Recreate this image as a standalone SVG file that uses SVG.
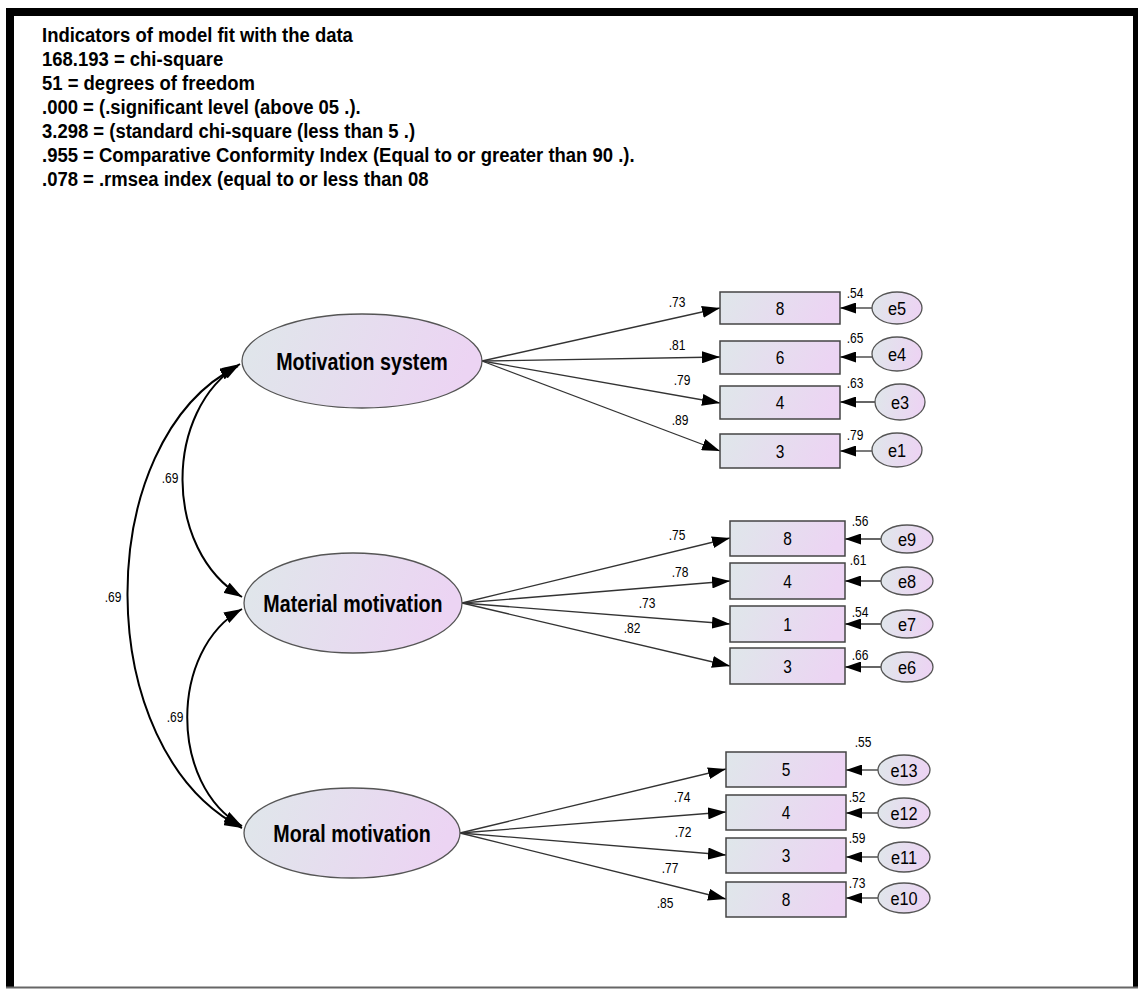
<svg xmlns="http://www.w3.org/2000/svg" width="1138" height="989" viewBox="0 0 1138 989">
<defs>
<linearGradient id="gr" x1="0" y1="0" x2="1" y2="0.15">
<stop offset="0" stop-color="#dfe7ea"/>
<stop offset="1" stop-color="#ecd4f3"/>
</linearGradient>
<marker id="arr" viewBox="0 0 18 12" refX="18" refY="6" markerWidth="18" markerHeight="12" orient="auto-start-reverse" markerUnits="userSpaceOnUse">
<path d="M0,0 L18,6 L0,12 z" fill="#000"/>
</marker>
<marker id="arrs" viewBox="0 0 16 11" refX="16" refY="5.5" markerWidth="16" markerHeight="11" orient="auto" markerUnits="userSpaceOnUse">
<path d="M0,0 L16,5.5 L0,11 z" fill="#000"/>
</marker>
<style>
.t{font-family:"Liberation Sans",Arial,sans-serif;fill:#000}
.hd{font-size:21px;font-weight:bold}
.lat{font-size:24px;font-weight:bold;text-anchor:middle}
.num{font-size:18px;text-anchor:middle}
.lbl{font-size:14px;text-anchor:middle}
.err{font-size:19px;text-anchor:middle}
.ell{fill:url(#gr);stroke:#555;stroke-width:1.3}
.box{fill:url(#gr);stroke:#444;stroke-width:1.5}
.ln{stroke:#333;stroke-width:1.3;fill:none;marker-end:url(#arr)}
.el{stroke:#333;stroke-width:1.3;fill:none;marker-end:url(#arrs)}
.cv{stroke:#000;stroke-width:2;fill:none;marker-start:url(#arr);marker-end:url(#arr)}
</style>
</defs>
<rect x="0" y="0" width="1138" height="989" fill="#fff"/>
<g id="frame">
<rect x="6" y="8" width="1132" height="8" fill="#000"/>
<rect x="6" y="8" width="8" height="980" fill="#000"/>
<rect x="1133" y="8" width="5" height="980" fill="#000"/>
<line x1="6" y1="987.5" x2="1138" y2="987.5" stroke="#666" stroke-width="2"/>
</g>
<g id="header" class="t hd" transform="translate(42,0) scale(0.88,1)">
<text x="0" y="42">Indicators of model fit with the data</text>
<text x="0" y="66">168.193 = chi-square</text>
<text x="0" y="90">51 = degrees of freedom</text>
<text x="0" y="114">.000 = (.significant level (above 05 .).</text>
<text x="0" y="138">3.298 = (standard chi-square (less than 5 .)</text>
<text x="0" y="162">.955 = Comparative Conformity Index (Equal to or greater than 90 .).</text>
<text x="0" y="186">.078 = .rmsea index (equal to or less than 08</text>
</g>
<g id="connectors">
<path class="cv" d="M240,364 C163,410 163,550 242,597"/>
<path class="cv" d="M238,366 C90,440 90,750 242,828"/>
<path class="cv" d="M242,609 C169,650 169,785 242,826"/>
<line class="ln" x1="482" y1="361" x2="720" y2="308"/>
<line class="ln" x1="482" y1="361" x2="720" y2="357"/>
<line class="ln" x1="482" y1="361" x2="720" y2="403"/>
<line class="ln" x1="482" y1="361" x2="720" y2="451"/>
<line class="ln" x1="462" y1="603" x2="730" y2="538"/>
<line class="ln" x1="462" y1="603" x2="730" y2="581"/>
<line class="ln" x1="462" y1="603" x2="730" y2="624"/>
<line class="ln" x1="462" y1="603" x2="730" y2="666"/>
<line class="ln" x1="460" y1="833" x2="726" y2="769"/>
<line class="ln" x1="460" y1="833" x2="726" y2="812"/>
<line class="ln" x1="460" y1="833" x2="726" y2="855"/>
<line class="ln" x1="460" y1="833" x2="726" y2="899"/>
<line class="el" x1="872" y1="308" x2="840" y2="308"/>
<line class="el" x1="872" y1="357" x2="840" y2="357"/>
<line class="el" x1="875" y1="402" x2="840" y2="402"/>
<line class="el" x1="872" y1="451" x2="840" y2="451"/>
<line class="el" x1="881" y1="539" x2="845" y2="539"/>
<line class="el" x1="881" y1="581" x2="845" y2="581"/>
<line class="el" x1="881" y1="624" x2="845" y2="624"/>
<line class="el" x1="881" y1="667" x2="845" y2="667"/>
<line class="el" x1="878" y1="770" x2="846" y2="770"/>
<line class="el" x1="878" y1="813" x2="846" y2="813"/>
<line class="el" x1="878" y1="857" x2="846" y2="857"/>
<line class="el" x1="878" y1="898" x2="846" y2="898"/>
</g>
<g id="connector-labels" class="t lbl">
<text transform="translate(170,483) scale(0.86,1)">.69</text>
<text transform="translate(113,602) scale(0.86,1)">.69</text>
<text transform="translate(175,722) scale(0.86,1)">.69</text>
<text transform="translate(677,307) scale(0.86,1)">.73</text>
<text transform="translate(677,350) scale(0.86,1)">.81</text>
<text transform="translate(682,385) scale(0.86,1)">.79</text>
<text transform="translate(680,425) scale(0.86,1)">.89</text>
<text transform="translate(677,540) scale(0.86,1)">.75</text>
<text transform="translate(680,577) scale(0.86,1)">.78</text>
<text transform="translate(647,608) scale(0.86,1)">.73</text>
<text transform="translate(632,633) scale(0.86,1)">.82</text>
<text transform="translate(682,802) scale(0.86,1)">.74</text>
<text transform="translate(683,837) scale(0.86,1)">.72</text>
<text transform="translate(670,873) scale(0.86,1)">.77</text>
<text transform="translate(665,908) scale(0.86,1)">.85</text>
</g>
<g id="F1">
<ellipse class="ell" cx="362" cy="361" rx="120" ry="47"/>
<text class="t lat" transform="translate(362,370) scale(0.82,1)">Motivation system</text>
</g>
<g id="F2">
<ellipse class="ell" cx="353" cy="603" rx="109" ry="50"/>
<text class="t lat" transform="translate(353,612) scale(0.82,1)">Material motivation</text>
</g>
<g id="F3">
<ellipse class="ell" cx="352" cy="833" rx="108" ry="45"/>
<text class="t lat" transform="translate(352,842) scale(0.82,1)">Moral motivation</text>
</g>
<g id="MS8"><rect class="box" x="720" y="292" width="120" height="32"/><text class="t num" transform="translate(780,314.5) scale(0.86,1)">8</text><text class="t lbl" transform="translate(855,298) scale(0.86,1)">.54</text></g>
<g id="MS6"><rect class="box" x="720" y="341" width="120" height="33"/><text class="t num" transform="translate(780,364) scale(0.86,1)">6</text><text class="t lbl" transform="translate(855,343) scale(0.86,1)">.65</text></g>
<g id="MS4"><rect class="box" x="720" y="386" width="120" height="33"/><text class="t num" transform="translate(780,409) scale(0.86,1)">4</text><text class="t lbl" transform="translate(855,388) scale(0.86,1)">.63</text></g>
<g id="MS3"><rect class="box" x="720" y="434" width="120" height="34"/><text class="t num" transform="translate(780,457.5) scale(0.86,1)">3</text><text class="t lbl" transform="translate(855,440) scale(0.86,1)">.79</text></g>
<g id="e5"><ellipse class="ell" cx="897" cy="308" rx="25" ry="16"/><text class="t err" transform="translate(897,315) scale(0.86,1)">e5</text></g>
<g id="e4"><ellipse class="ell" cx="897" cy="354" rx="25" ry="17"/><text class="t err" transform="translate(897,361) scale(0.86,1)">e4</text></g>
<g id="e3"><ellipse class="ell" cx="900" cy="402" rx="25" ry="18"/><text class="t err" transform="translate(900,409) scale(0.86,1)">e3</text></g>
<g id="e1"><ellipse class="ell" cx="897" cy="450" rx="25" ry="17"/><text class="t err" transform="translate(897,457) scale(0.86,1)">e1</text></g>
<g id="MA8"><rect class="box" x="730" y="521" width="115" height="35"/><text class="t num" transform="translate(787.5,545) scale(0.86,1)">8</text><text class="t lbl" transform="translate(860,526) scale(0.86,1)">.56</text></g>
<g id="MA4"><rect class="box" x="730" y="563" width="115" height="36"/><text class="t num" transform="translate(787.5,587.5) scale(0.86,1)">4</text><text class="t lbl" transform="translate(858,565) scale(0.86,1)">.61</text></g>
<g id="MA1"><rect class="box" x="730" y="606" width="115" height="36"/><text class="t num" transform="translate(787.5,630.5) scale(0.86,1)">1</text><text class="t lbl" transform="translate(860,617) scale(0.86,1)">.54</text></g>
<g id="MA3"><rect class="box" x="730" y="648" width="115" height="36"/><text class="t num" transform="translate(787.5,672.5) scale(0.86,1)">3</text><text class="t lbl" transform="translate(860,660) scale(0.86,1)">.66</text></g>
<g id="e9"><ellipse class="ell" cx="907" cy="539" rx="26" ry="14"/><text class="t err" transform="translate(907,546) scale(0.86,1)">e9</text></g>
<g id="e8"><ellipse class="ell" cx="907" cy="581" rx="26" ry="14"/><text class="t err" transform="translate(907,588) scale(0.86,1)">e8</text></g>
<g id="e7"><ellipse class="ell" cx="907" cy="624" rx="26" ry="14"/><text class="t err" transform="translate(907,631) scale(0.86,1)">e7</text></g>
<g id="e6"><ellipse class="ell" cx="907" cy="667" rx="26" ry="15"/><text class="t err" transform="translate(907,674) scale(0.86,1)">e6</text></g>
<g id="MO5"><rect class="box" x="726" y="752" width="120" height="35"/><text class="t num" transform="translate(786,776) scale(0.86,1)">5</text><text class="t lbl" transform="translate(863,747) scale(0.86,1)">.55</text></g>
<g id="MO4"><rect class="box" x="726" y="795" width="120" height="35"/><text class="t num" transform="translate(786,819) scale(0.86,1)">4</text><text class="t lbl" transform="translate(857,802) scale(0.86,1)">.52</text></g>
<g id="MO3"><rect class="box" x="726" y="838" width="120" height="35"/><text class="t num" transform="translate(786,862) scale(0.86,1)">3</text><text class="t lbl" transform="translate(857,843) scale(0.86,1)">.59</text></g>
<g id="MO8"><rect class="box" x="726" y="882" width="120" height="35"/><text class="t num" transform="translate(786,906) scale(0.86,1)">8</text><text class="t lbl" transform="translate(857,888) scale(0.86,1)">.73</text></g>
<g id="e13"><ellipse class="ell" cx="904" cy="770" rx="26" ry="15"/><text class="t err" transform="translate(904,777) scale(0.86,1)">e13</text></g>
<g id="e12"><ellipse class="ell" cx="904" cy="813" rx="26" ry="15"/><text class="t err" transform="translate(904,820) scale(0.86,1)">e12</text></g>
<g id="e11"><ellipse class="ell" cx="904" cy="857" rx="26" ry="15"/><text class="t err" transform="translate(904,864) scale(0.86,1)">e11</text></g>
<g id="e10"><ellipse class="ell" cx="904" cy="898" rx="26" ry="15"/><text class="t err" transform="translate(904,905) scale(0.86,1)">e10</text></g>
</svg>
